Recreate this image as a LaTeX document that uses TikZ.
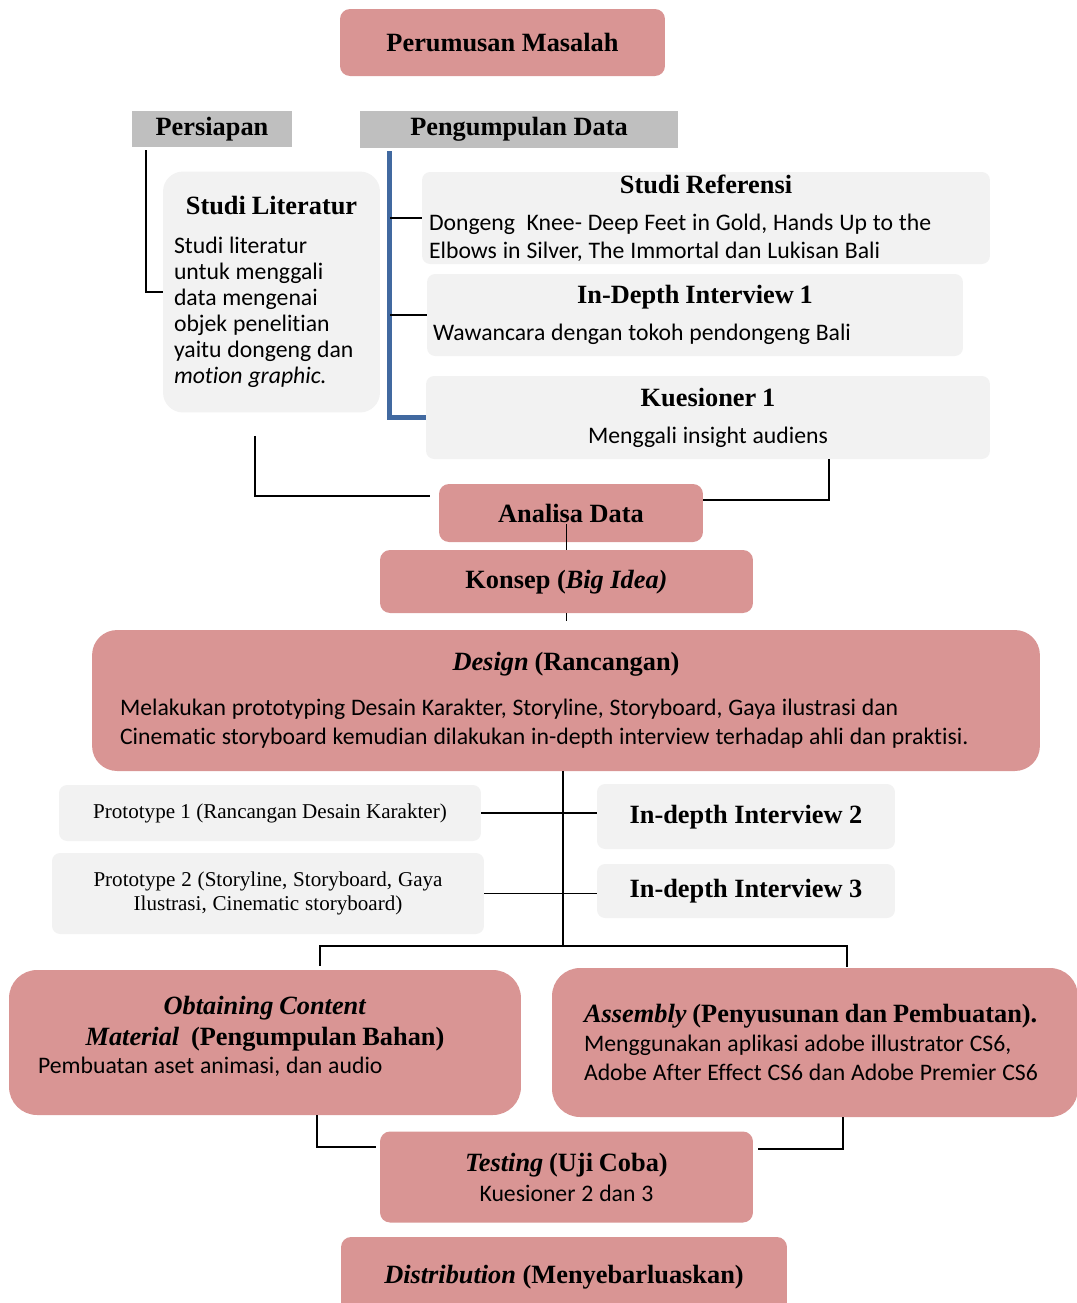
\documentclass[tikz,border=0pt]{standalone}
\usepackage{fontspec}
\setmainfont{Liberation Serif}
\newfontfamily\calibri[Ligatures=NoCommon]{Carlito}

\definecolor{rosefill}{RGB}{217,149,148}
\definecolor{paperfill}{RGB}{242,242,242}
\definecolor{tabfill}{RGB}{191,191,191}
\definecolor{trunkblue}{RGB}{65,105,160}

\newcommand{\headtxt}{\fontsize{15}{18}\selectfont\bfseries}
\newcommand{\bodytxt}{\calibri\mdseries\upshape\fontsize{13.5}{16}\selectfont}
\newcommand{\prototxt}{\fontsize{12}{13.6}\selectfont}

\tikzset{
  rosebox/.style={fill=rosefill, rounded corners=0.2cm, inner sep=0pt},
  paperbox/.style={fill=paperfill, rounded corners=0.16cm, inner sep=0pt},
  tabbox/.style={fill=tabfill, inner sep=0pt},
  link/.style={line width=1.1pt},
}

\begin{document}
\begin{tikzpicture}[x=0.02cm, y=-0.02cm]
        \useasboundingbox (0,0) rectangle (1077,1303);

        \node[rosebox, minimum width=6.5cm, minimum height=1.34cm] (masalah) at (502.5,42.5) {\headtxt Perumusan Masalah};
        \node[tabbox, minimum width=3.2cm, minimum height=0.72cm] (persiapan) at (212,129) {\headtxt Persiapan};
        \node[tabbox, minimum width=6.36cm, minimum height=0.74cm] (pengumpulan) at (519,129.5) {\headtxt Pengumpulan Data};

        \node[paperbox, rounded corners=0.4cm, text width=3.9cm, inner xsep=0.22cm, minimum height=4.82cm] (literatur) at (271.5,292) {\centering\headtxt Studi Literatur\par\vspace{7pt}\raggedright\bodytxt\fontsize{13.5}{14.8}\selectfont Studi literatur\\ untuk menggali\\ data mengenai\\ objek penelitian\\ yaitu dongeng dan\\ \textit{motion graphic.}\par};
        \node[paperbox, text width=11.08cm, inner xsep=0.14cm, minimum height=1.84cm] (referensi) at (706,218) {\centering\headtxt Studi Referensi\par\vspace{5pt}\raggedright\bodytxt Dongeng\ \ Knee- Deep Feet in Gold, Hands Up to the\\ Elbows in Silver, The Immortal dan Lukisan Bali\par};
        \node[paperbox, text width=10.48cm, inner xsep=0.12cm, minimum height=1.64cm] (wawancara) at (695,315) {\centering\headtxt In-Depth Interview 1\par\vspace{5pt}\raggedright\bodytxt Wawancara dengan tokoh pendongeng Bali\par};
        \node[paperbox, text width=11.28cm, minimum height=1.66cm] (kuesioner) at (708,417.5) {\centering\headtxt Kuesioner 1\par\vspace{5pt}\bodytxt Menggali insight audiens\par};

        \node[rosebox, minimum width=5.28cm, minimum height=1.16cm] (analisa) at (571,513) {\headtxt Analisa Data};
        \node[rosebox, minimum width=7.46cm, minimum height=1.26cm, text depth=0.1cm] (konsep) at (566.5,581.5) {\headtxt Konsep (\textit{Big Idea)}};
        \node[rosebox, rounded corners=0.5cm, text width=17.84cm, inner xsep=0.56cm, minimum height=2.82cm] (design) at (566,700.5) {\centering\headtxt\textit{Design} (Rancangan)\par\vspace{9pt}\raggedright\bodytxt\fontsize{13.5}{16.5}\selectfont Melakukan prototyping Desain Karakter, Storyline, Storyboard, Gaya ilustrasi dan\\ Cinematic storyboard kemudian dilakukan in-depth interview terhadap ahli dan praktisi.\par};

        \node[paperbox, minimum width=8.44cm, minimum height=1.12cm] (proto1) at (270,813) {\prototxt Prototype 1 (Rancangan Desain Karakter)};
        \node[paperbox, minimum width=5.96cm, minimum height=1.3cm, text depth=0.1cm] (interview2) at (746,816.5) {\headtxt In-depth Interview 2};
        \node[paperbox, text width=8.64cm, minimum height=1.62cm] (proto2) at (268,893.5) {\centering\prototxt Prototype 2 (Storyline, Storyboard, Gaya\\ Ilustrasi, Cinematic storyboard)\par};
        \node[paperbox, minimum width=5.96cm, minimum height=1.08cm, text depth=0.1cm] (interview3) at (746,891) {\headtxt In-depth Interview 3};

        \node[rosebox, rounded corners=0.56cm, text width=9.08cm, inner xsep=0.58cm, minimum height=2.9cm] (obtaining) at (265,1042.5) {\centering\headtxt\textit{Obtaining Content}\\ \textit{Material}\ \ (Pengumpulan Bahan)\par\raggedright\bodytxt Pembuatan aset animasi, dan audio\par\kern7pt};
        \node[rosebox, rounded corners=0.56cm, text width=9.6cm, inner xsep=0.46cm, minimum height=2.98cm] (assembly) at (815,1042.5) {\raggedright\leftskip=0.18cm\headtxt\mbox{\textit{Assembly} (Penyusunan dan Pembuatan).}\par\bodytxt\fontsize{13.5}{16.5}\selectfont Menggunakan aplikasi adobe illustrator CS6,\\ Adobe After Effect CS6 dan Adobe Premier CS6\par};
        \node[rosebox, text width=7.46cm, minimum height=1.82cm] (testing) at (566.5,1177) {\centering\headtxt\textit{Testing} (Uji Coba)\par\vspace{1pt}\bodytxt Kuesioner 2 dan 3\par};
        \node[rosebox, minimum width=8.92cm, minimum height=1.6cm] (distribution) at (564,1277) {\headtxt\textit{Distribution} (Menyebarluaskan)};

        \coordinate (trunk) at (390,150);
        \coordinate (fork) at (563,946);

        \draw[link] ([xshift=0.28cm,yshift=-0.06cm]persiapan.south west) |- (literatur.west);
        \draw[line width=2.8pt, trunkblue] ([xshift=0.6cm,yshift=-0.06cm]pengumpulan.south west) |- (kuesioner.west);
        \draw[link] (referensi.west) -- (referensi.west -| trunk);
        \draw[link] (wawancara.west) -- (wawancara.west -| trunk);

        \draw[link] ([xshift=-0.33cm,yshift=-0.46cm]literatur.south) |- ([xshift=-0.18cm,yshift=0.34cm]analisa.west);
        \draw[link] ([xshift=2.42cm]kuesioner.south) |- ([yshift=0.26cm]analisa.east);
        \draw[link] (konsep.north) -- ++(0,0.52cm);
        \draw[link] (konsep.south) -- ++(0,-0.16cm);

        \draw[link] (design.south -| fork) -- (fork);
        \draw[link] (proto1.east) -- (proto1.east -| interview2.west);
        \draw[link] (proto2.east) -- (proto2.east -| interview3.west);
        \draw[link] ([xshift=1.1cm,yshift=0.08cm]obtaining.north) |- (fork) -| ([xshift=0.64cm,yshift=0.02cm]assembly.north);

        \draw[link] ([xshift=1.04cm]obtaining.south) |- ([xshift=-0.08cm,yshift=0.6cm]testing.west);
        \draw[link] ([xshift=0.56cm]assembly.south) |- ([xshift=0.1cm,yshift=0.56cm]testing.east);
    \end{tikzpicture}
\end{document}
